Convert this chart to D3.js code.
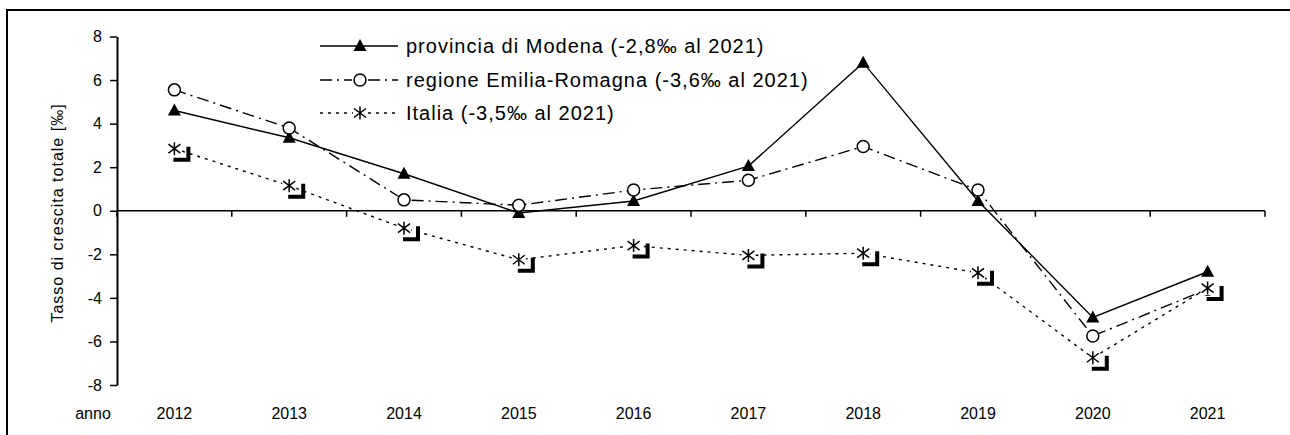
<!doctype html>
<html>
<head>
<meta charset="utf-8">
<title>Tasso di crescita totale</title>
<script src="https://d3js.org/d3.v7.min.js"></script>
<style>
body{margin:0;background:#fff;}
text{font-family:"Liberation Sans",Arial,sans-serif;fill:#000;}
</style>
</head>
<body>
<script>
// dati (per mille)
var anni = ["2012","2013","2014","2015","2016","2017","2018","2019","2020","2021"];
var modena = [4.6, 3.35, 1.7, -0.1, 0.45, 2.05, 6.8, 0.45, -4.9, -2.8];
var emilia = [5.55, 3.8, 0.5, 0.25, 0.95, 1.4, 2.95, 0.95, -5.75, -3.6];
var italia = [2.85, 1.15, -0.8, -2.25, -1.6, -2.05, -1.95, -2.85, -6.75, -3.55];
var yTicks = [-8,-6,-4,-2,0,2,4,6,8];
var legendaTesti = ["provincia di Modena (-2,8‰ al 2021)",
                    "regione Emilia-Romagna (-3,6‰ al 2021)",
                    "Italia (-3,5‰ al 2021)"];

var width = 1290, height = 435;
var svg = d3.select("body").append("svg")
    .attr("width", width)
    .attr("height", height);

// cornice
svg.append("rect")
    .attr("x", 7).attr("y", 10)
    .attr("width", 1300).attr("height", 500)
    .attr("fill", "none").attr("stroke", "#000").attr("stroke-width", 2);

var x = d3.scaleBand().domain(anni).range([117, 1265]).padding(0);
var y = d3.scaleLinear().domain([-8, 8]).range([385, 36.5]);
var cx = function(d, i){ return x(anni[i]) + x.bandwidth()/2; };

// asse y
var yAxis = svg.append("g")
    .attr("transform", "translate(117,0)")
    .call(d3.axisLeft(y).tickValues(yTicks).tickSize(7).tickSizeOuter(0).tickPadding(8));
yAxis.select(".domain").attr("stroke-width", 2);
yAxis.selectAll(".tick line").attr("stroke-width", 1.5);
yAxis.selectAll("text").attr("font-size", 16).attr("fill", "#000")
    .text(function(d){ return d; });

// asse x sullo zero
var xEdges = anni.map(function(a){ return x(a); }).concat([1265]);
svg.append("line")
    .attr("x1", 117).attr("x2", 1265)
    .attr("y1", y(0)).attr("y2", y(0))
    .attr("stroke", "#000").attr("stroke-width", 1.5);
svg.selectAll(".xtick").data(xEdges).enter().append("line")
    .attr("class", "xtick")
    .attr("x1", function(d){ return d; }).attr("x2", function(d){ return d; })
    .attr("y1", y(0)).attr("y2", y(0) + 6)
    .attr("stroke", "#000").attr("stroke-width", 1.5);

svg.selectAll(".xlab").data(anni).enter().append("text")
    .attr("class", "xlab")
    .attr("x", function(d){ return x(d) + x.bandwidth()/2; })
    .attr("y", 419)
    .attr("text-anchor", "middle")
    .attr("font-size", 16)
    .text(function(d){ return d; });
svg.append("text")
    .attr("x", 93).attr("y", 419)
    .attr("text-anchor", "middle").attr("font-size", 16)
    .text("anno");

svg.append("text")
    .attr("transform", "translate(63,213) rotate(-90)")
    .attr("text-anchor", "middle").attr("font-size", 16)
    .attr("letter-spacing", 1)
    .text("Tasso di crescita totale [‰]");

// linee
var serie = [
  {v: modena, dash: null, marker: "tri"},
  {v: emilia, dash: "12,5,2,5", marker: "circ"},
  {v: italia, dash: "3,5", marker: "star"}
];
var line = d3.line().x(cx).y(function(d){ return y(d); });

serie.forEach(function(s){
  svg.append("path")
      .datum(s.v)
      .attr("d", line)
      .attr("fill", "none")
      .attr("stroke", "#000")
      .attr("stroke-width", 1.4)
      .attr("stroke-dasharray", s.dash);
});

var triPath = "M0,-7L6.5,5H-6.5Z";
var starPath = "M0,-6.5V6.5M-6,-4.5L6,4.5M-6,4.5L6,-4.5";

function disegnaMarker(g, tipo, bracket){
  if (tipo == "tri") {
    g.append("path").attr("d", triPath).attr("fill", "#000");
  } else if (tipo == "circ") {
    g.append("circle").attr("r", 6).attr("fill", "#fff")
        .attr("stroke", "#000").attr("stroke-width", 1.5);
  } else {
    g.append("rect").attr("x", -7).attr("y", -7).attr("width", 14).attr("height", 14)
        .attr("fill", "#fff");
    g.append("path").attr("d", starPath).attr("fill", "none")
        .attr("stroke", "#000").attr("stroke-width", 1.5);
    if (bracket) {
      g.append("path").attr("d", "M-1,11H14V-2").attr("fill", "none")
          .attr("stroke", "#000").attr("stroke-width", 4);
    }
  }
}

serie.forEach(function(s){
  s.v.forEach(function(d, i){
    var g = svg.append("g").attr("transform", "translate(" + cx(d, i) + "," + y(d) + ")");
    disegnaMarker(g, s.marker, true);
  });
});

// legenda
var legY = [46, 80, 113];
serie.forEach(function(s, i){
  svg.append("line")
      .attr("x1", 320).attr("x2", 398)
      .attr("y1", legY[i]).attr("y2", legY[i])
      .attr("stroke", "#000").attr("stroke-width", 1.4)
      .attr("stroke-dasharray", s.dash);
  var g = svg.append("g").attr("transform", "translate(360," + legY[i] + ")");
  if (s.marker == "circ") {
    g.append("rect").attr("x", -8).attr("y", -3).attr("width", 16).attr("height", 6).attr("fill", "#fff");
  }
  disegnaMarker(g, s.marker, false);
  svg.append("text")
      .attr("x", 406).attr("y", legY[i] + 7)
      .attr("font-size", 20)
      .attr("letter-spacing", 1)
      .text(legendaTesti[i]);
});
</script>
</body>
</html>
